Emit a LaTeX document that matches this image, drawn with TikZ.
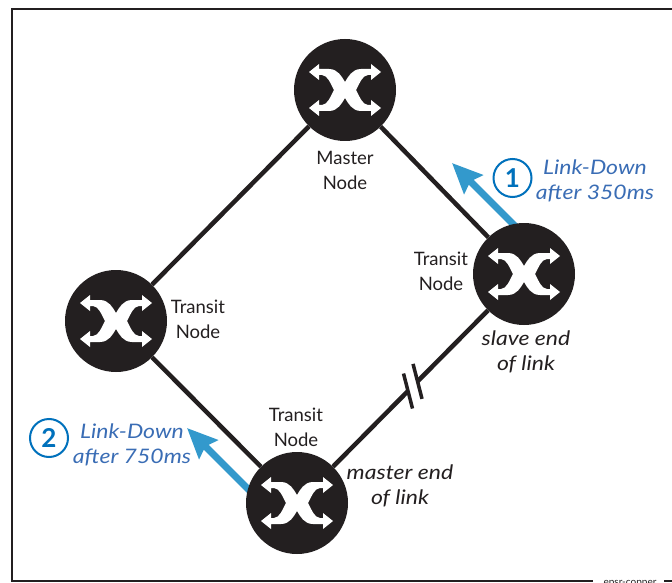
\documentclass[tikz,border=0pt]{standalone}
\usepackage{fontspec}
\setmainfont{Lato}[ItalicFeatures={FakeStretch=1.15}]
\usetikzlibrary{arrows.meta,calc}
\definecolor{ink}{HTML}{231F20}
\definecolor{flow}{HTML}{3399CC}
\definecolor{ltext}{HTML}{3A6DB5}
\definecolor{badge}{HTML}{0071BC}
\tikzset{
  x=1pt,y=-1pt,
  sw/.style={circle,fill=ink,minimum size=102pt,inner sep=0pt},
  link/.style={draw=ink,line width=4.5pt},
  lbl/.style={text=ink,align=center,font=\fontsize{18.5}{25}\selectfont,inner sep=0pt},
  ilbl/.style={lbl,font=\fontsize{20}{25}\selectfont\itshape},
  blbl/.style={ilbl,text=ltext},
  flowarrow/.style={draw=flow,line width=7pt,-{Stealth[length=30pt,width=26pt,inset=4pt]}},
  badgec/.style={circle,draw=badge,line width=2pt,minimum size=38pt,inner sep=0pt,text=badge,font=\fontsize{26}{26}\selectfont\bfseries},
  xsw/.pic={
    \foreach \sx/\sy in {1/1,1/-1,-1/1,-1/-1}{
      \fill[white,xscale=\sx,yscale=\sy] (0,0) -- (0,-8)
        .. controls (3,-13) and (7,-21) .. (16,-21) -- (26,-21) -- (26,-26) -- (36,-18)
        -- (26,-10) -- (26,-15) -- (23,-15)
        .. controls (17,-14.5) and (15,-7) .. (11,0) -- cycle;
    }
  }
}
\begin{document}
\begin{tikzpicture}
\useasboundingbox[clip] (0,0) rectangle (672,583);
\fill[white] (0,0) rectangle (672,583);
% frame
\draw[ink,line width=1.5pt] (672,9) -- (12,9) -- (12,581) -- (593,581);
\draw[ink,line width=1.5pt] (664,581) -- (672,581);
\node[text=ink,font=\fontsize{10}{10}\selectfont,anchor=north,inner sep=0pt] (tag) at (630,580) {epsr-copper};
% flow arrows run under the switches
\coordinate (a1s) at (530,241);
\coordinate (a1e) at (452,163);
\coordinate (a2s) at (265,506);
\coordinate (a2e) at (187,428);
\draw[flowarrow] (a1s) -- (a1e);
\draw[flowarrow] (a2s) -- (a2e);
% switches
\node[sw] (M) at (345,90) {};
\node[sw] (R) at (524,274) {};
\node[sw] (L) at (116,321) {};
\node[sw] (B) at (297,503) {};
\foreach \n in {M,R,L,B}{\pic at (\n) {xsw};}
% links
\draw[link] (M) -- (L);
\draw[link] (M) -- (R);
\draw[link] (L) -- (B);
\coordinate (c1) at ($(R)!0.469!(B)$);
\coordinate (c2) at ($(R)!0.511!(B)$);
\draw[link] (R) -- (c1);
\draw[link] (c2) -- (B);
\draw[ink,line width=3.5pt] ($(c1)+(-4.5,-17.5)$) coordinate (c1a) -- ($(c1)+(4.5,17.5)$) coordinate (c1b);
\draw[ink,line width=3.5pt] ($(c2)+(-4.5,-17.5)$) coordinate (c2a) -- ($(c2)+(4.5,17.5)$) coordinate (c2b);
% labels
\node[lbl] (tM) at (345,170.5) {Master\\Node};
\node[lbl] (tR) at (441,271) {Transit\\Node};
\node[lbl] (tL) at (198,319) {Transit\\Node};
\node[lbl] (tB) at (296,427) {Transit\\Node};
\node[ilbl] (sl) at (526,351.5) {slave end\\of link};
\node[ilbl] (ml) at (400,485.5) {master end\\of link};
\node[blbl] (b1) at (595,180.5) {Link-Down\\after 350ms};
\node[blbl] (b2) at (132,444.5) {Link-Down\\after 750ms};
\node[badgec] (n1) at (512.5,178) {1};
\node[badgec] (n2) at (49,438) {2};
\end{tikzpicture}
\end{document}
